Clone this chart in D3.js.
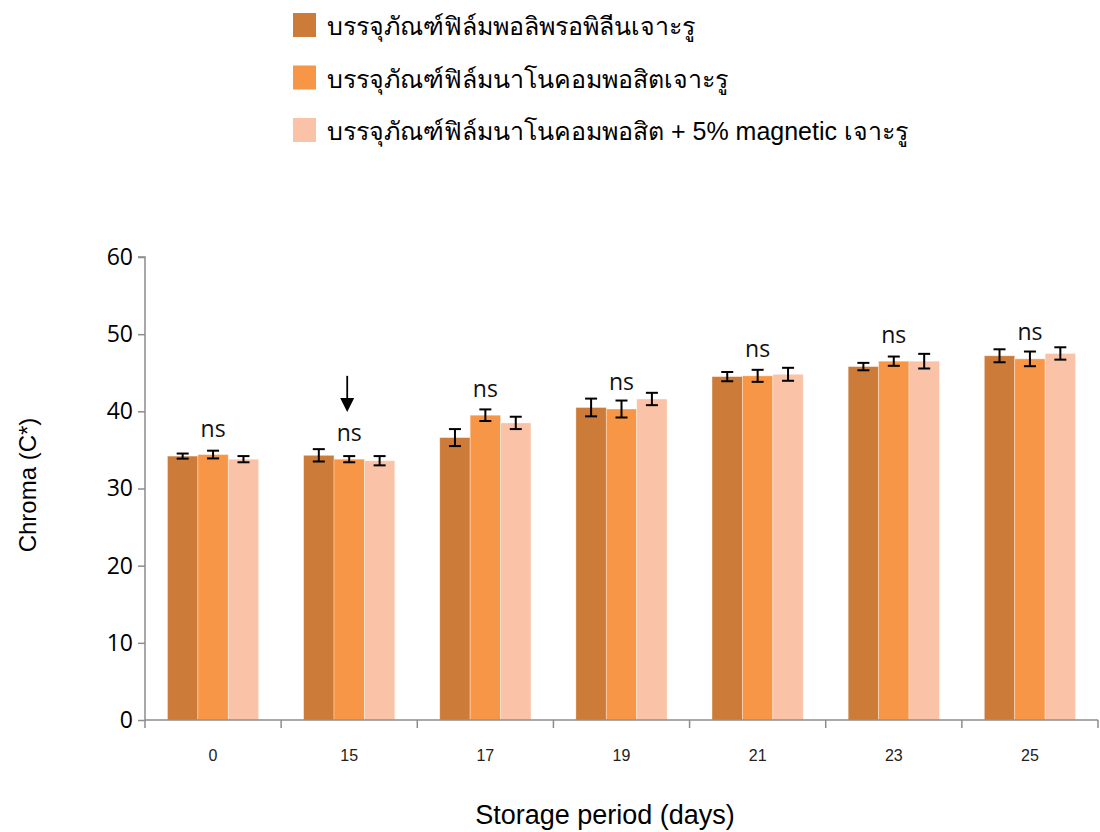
<!DOCTYPE html>
<html>
<head>
<meta charset="utf-8">
<script src="https://cdn.jsdelivr.net/npm/d3@7"></script>
<style>
  body { margin: 0; background: #fff; }
  svg { display: block; }
</style>
</head>
<body>
<svg id="chart" width="1100" height="832"></svg>
<script>
// Storage days on the x axis
const days = ["0", "15", "17", "19", "21", "23", "25"];

// Packaging treatments (legend labels)
const seriesNames = [
  "บรรจุภัณฑ์ฟิล์มพอลิพรอพิลีนเจาะรู",
  "บรรจุภัณฑ์ฟิล์มนาโนคอมพอสิตเจาะรู",
  "บรรจุภัณฑ์ฟิล์มนาโนคอมพอสิต + 5% magnetic เจาะรู"
];

// Mean chroma (C*) per treatment
const ppValues    = [34.2, 34.3, 36.6, 40.5, 44.5, 45.8, 47.2];
const nanoValues  = [34.4, 33.8, 39.5, 40.3, 44.6, 46.5, 46.8];
const magValues   = [33.8, 33.6, 38.5, 41.6, 44.8, 46.5, 47.5];

// Standard deviations (error bars)
const ppErr   = [0.33, 0.8, 1.1, 1.15, 0.6, 0.48, 0.84];
const nanoErr = [0.5, 0.4, 0.75, 1.1, 0.78, 0.6, 0.95];
const magErr  = [0.4, 0.6, 0.8, 0.8, 0.84, 0.95, 0.8];

// Significance labels above each group and the chroma level they sit at
const sigLabels = ["ns", "ns", "ns", "ns", "ns", "ns", "ns"];
const sigLevels = [36.7, 36.2, 41.9, 42.8, 47.0, 48.9, 49.2];

const yTicks = [0, 10, 20, 30, 40, 50, 60];

const colors = ["#CC7B38", "#F79646", "#FAC3A8"];

const values = [ppValues, nanoValues, magValues];
const errors = [ppErr, nanoErr, magErr];

const svg = d3.select("#chart");
const plotLeft = 145, plotRight = 1098, plotTop = 257, plotBottom = 720;

const x = d3.scaleBand().domain(days).range([plotLeft, plotRight]);
const y = d3.scaleLinear().domain([0, 60]).range([plotBottom, plotTop]);

// Bars of a group take about two thirds of each band
const groupShare = 0.67;
const bw = x.bandwidth();
const xs = d3.scaleBand().domain(d3.range(3))
  .range([bw * (1 - groupShare) / 2, bw * (1 + groupShare) / 2]);

// Bars
const groups = svg.append("g").selectAll("g")
  .data(days)
  .join("g")
  .attr("transform", d => `translate(${x(d)},0)`);

groups.each(function(d, i) {
  const g = d3.select(this);
  for (let s = 0; s < 3; s++) {
    const v = values[s][i];
    g.append("rect")
      .attr("x", xs(s))
      .attr("y", y(v))
      .attr("width", xs.bandwidth())
      .attr("height", y(0) - y(v))
      .attr("fill", colors[s])
      .attr("stroke", "#ffffff")
      .attr("stroke-opacity", 0.45)
      .attr("stroke-width", 0.8);
  }
});

// Error bars
groups.each(function(d, i) {
  const g = d3.select(this);
  for (let s = 0; s < 3; s++) {
    const v = values[s][i], e = errors[s][i];
    const cx = xs(s) + xs.bandwidth() / 2;
    const eb = g.append("g").attr("stroke", "#000").attr("stroke-width", 2);
    eb.append("line").attr("x1", cx).attr("x2", cx).attr("y1", y(v + e)).attr("y2", y(v - e));
    eb.append("line").attr("x1", cx - 6).attr("x2", cx + 6).attr("y1", y(v + e)).attr("y2", y(v + e));
    eb.append("line").attr("x1", cx - 6).attr("x2", cx + 6).attr("y1", y(v - e)).attr("y2", y(v - e));
  }
});

// Significance labels
groups.each(function(d, i) {
  d3.select(this).append("text")
    .attr("x", bw / 2)
    .attr("y", y(sigLevels[i]))
    .attr("text-anchor", "middle")
    .attr("font-family", "'Open Sans', Lato, sans-serif")
    .attr("font-size", 23)
    .attr("fill", "#111")
    .text(sigLabels[i]);
});

// Arrow marking day 15
{
  const cx = x("15") + bw / 2 - 2;
  const tip = y(39.9);
  svg.append("line").attr("x1", cx).attr("x2", cx)
    .attr("y1", y(44.6)).attr("y2", tip - 10)
    .attr("stroke", "#000").attr("stroke-width", 1.8);
  svg.append("path")
    .attr("d", `M${cx - 7},${tip - 14} L${cx + 7},${tip - 14} L${cx},${tip} Z`)
    .attr("fill", "#000");
}

// Y axis
const yAxis = d3.axisLeft(y).tickValues(yTicks).tickSize(7).tickPadding(5);
const yg = svg.append("g").attr("transform", `translate(${plotLeft},0)`).call(yAxis);
yg.select(".domain").attr("stroke", "#8c8c8c").attr("stroke-width", 1.5).attr("d", `M-7,${plotTop}H0V${plotBottom}`);
yg.selectAll(".tick line").attr("stroke", "#8c8c8c").attr("stroke-width", 1.5);
yg.selectAll(".tick text")
  .attr("font-family", "'Open Sans', Lato, sans-serif")
  .attr("font-size", 23)
  .attr("fill", "#000");

// X axis with ticks at band boundaries
const xg = svg.append("g").attr("transform", `translate(0,${plotBottom})`);
xg.append("line").attr("x1", plotLeft).attr("x2", plotRight).attr("y1", 0).attr("y2", 0)
  .attr("stroke", "#8c8c8c").attr("stroke-width", 1.5);
const bounds = days.map(d => x(d)).concat([plotRight]);
xg.selectAll("line.tk").data(bounds).join("line")
  .attr("class", "tk")
  .attr("x1", d => d).attr("x2", d => d).attr("y1", 0).attr("y2", 8)
  .attr("stroke", "#8c8c8c").attr("stroke-width", 1.5);
xg.selectAll("text").data(days).join("text")
  .attr("x", d => x(d) + bw / 2)
  .attr("y", 41)
  .attr("text-anchor", "middle")
  .attr("font-family", "'Liberation Sans Narrow', 'Liberation Sans', sans-serif")
  .attr("font-size", 16)
  .attr("fill", "#222")
  .text(d => d);

// Axis titles
svg.append("text")
  .attr("x", 605).attr("y", 824)
  .attr("text-anchor", "middle")
  .attr("font-family", "'Liberation Sans Narrow', 'Liberation Sans', sans-serif")
  .attr("font-size", 27)
  .attr("fill", "#000")
  .text("Storage period (days)");

svg.append("text")
  .attr("transform", "translate(36,485) rotate(-90)")
  .attr("text-anchor", "middle")
  .attr("font-family", "'Liberation Sans', Arial, sans-serif")
  .attr("font-size", 24)
  .attr("fill", "#000")
  .text("Chroma (C*)");

// Legend
const legend = svg.append("g").attr("transform", "translate(293,13)");
seriesNames.forEach((name, i) => {
  const ly = i * 52.5;
  legend.append("rect").attr("x", 0).attr("y", ly).attr("width", 23).attr("height", 24)
    .attr("fill", colors[i]);
  legend.append("text").attr("x", 34).attr("y", ly + 22)
    .attr("font-family", "'Liberation Sans', 'DejaVu Sans', sans-serif")
    .attr("font-size", 25)
    .attr("fill", "#000")
    .text(name);
});
</script>
</body>
</html>
